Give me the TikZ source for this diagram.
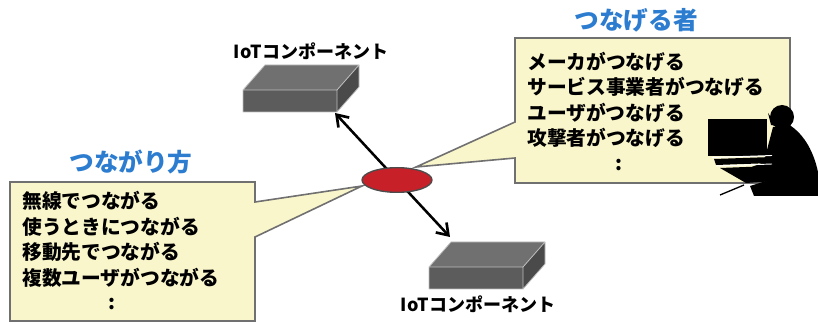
\documentclass[tikz,border=0pt]{standalone}
\usepackage{fontspec}
\newfontfamily\jp{Noto Sans CJK JP}[BoldFont={Noto Sans CJK JP Black}]
\usetikzlibrary{arrows.meta,shapes.geometric}

\definecolor{notefill}{RGB}{250,246,204}
\definecolor{noteline}{RGB}{112,112,112}
\definecolor{titleblue}{RGB}{44,124,208}
\definecolor{hubred}{RGB}{200,32,40}
\definecolor{boxtop}{RGB}{112,112,112}
\definecolor{boxfront}{RGB}{92,92,92}
\definecolor{boxside}{RGB}{74,74,74}

\tikzset{
  note/.style={fill=notefill, draw=noteline, line width=1.2pt, line join=miter},
  title/.style={font=\jp\bfseries\fontsize{18.5}{22}\selectfont, text=titleblue, inner sep=0pt},
  items/.style={font=\jp\bfseries\fontsize{14.8}{19.1}\selectfont, align=left, anchor=west, inner sep=0pt},
  comp/.style={font=\jp\bfseries\fontsize{13.5}{16}\selectfont, inner sep=0pt},
  link/.style={line width=1.9pt, {Straight Barb[length=8pt,width=11pt,line width=2pt]}-{Straight Barb[length=8pt,width=11pt,line width=2pt]}},
  hub/.style={ellipse, minimum width=52.5pt, minimum height=18.5pt, inner sep=0pt,
    fill=hubred, draw=black!70, line width=1pt},
  % flat box, placed by its front lower left corner
  iotbox/.pic={
    \fill[boxfront] (0,0) rectangle (94,-22);
    \fill[boxtop] (0,-22) -- (22,-47) -- (116,-47) -- (94,-22) -- cycle;
    \fill[boxside] (94,0) -- (116,-25) -- (116,-47) -- (94,-22) -- cycle;
    \draw[black!25, line width=0.6pt, line join=round]
      (0,0) rectangle (94,-22) (0,-22) -- (22,-47) -- (116,-47) -- (94,-22)
      (116,-47) -- (116,-25) -- (94,0);
  }
}

\begin{document}
\begin{tikzpicture}[x=0.75pt, y=-0.75pt]
\useasboundingbox (0,0) rectangle (818,324);

% speech bubbles
\draw[note] (10,182) -- (255,182) -- (255,202) -- (362,186) -- (255,237)
  -- (255,321) -- (10,321) -- cycle;
\draw[note] (515,38) -- (790,38) -- (790,183) -- (515,183) -- (515,158)
  -- (416,167) -- (515,122) -- cycle;

\node[title] (howT) at (131,162) {つながり方};
\node[title] (whoT) at (636,20) {つなげる者};

\node[items] (how) at (22,239.5) {無線でつながる\\使うときにつながる\\移動先でつながる\\複数ユーザがつながる};
\node[items, anchor=center] (howDots) at (112,304) {:};
\node[items] (who) at (527,100) {メーカがつなげる\\サービス事業者がつなげる\\ユーザがつなげる\\攻撃者がつなげる};
\node[items, anchor=center] (whoDots) at (619,165) {:};

% the two components
\pic at (243,112) {iotbox};
\pic at (429,289) {iotbox};
\node[comp] (compA) at (311,51) {IoTコンポーネント};
\node[comp] (compB) at (478,304) {IoTコンポーネント};
\coordinate (tipA) at (335,113);
\coordinate (tipB) at (450,237);

\coordinate (hubC) at (397,180);
\draw[link] (tipA) -- (hubC) -- (tipB);
\node[hub] (hub) at (hubC) {};

% person at the screen
\fill (708,119) rectangle (767,156);
\fill (714,159) -- (772,157) -- (772,163) -- (716,165) -- cycle;
\fill (720,168) -- (772,166) -- (776,181) -- (746,183) -- cycle;
\fill (782,117) circle (12);
\fill (768,113) -- (771,125) -- (777,126) -- cycle;
\fill (773,127) -- (791,126) .. controls (808,138) and (815,158) .. (818,172)
  -- (818,196) -- (754,196) -- (750,186) -- (766,181) -- (758,174)
  -- (742,171) -- (764,162) -- (768,146) -- cycle;
\draw[white, line width=0.7pt] (712,157.5) -- (772,155.5) (716,166) -- (772,164);
\draw[line width=1pt] (720,195) -- (744,185);
\end{tikzpicture}
\end{document}
